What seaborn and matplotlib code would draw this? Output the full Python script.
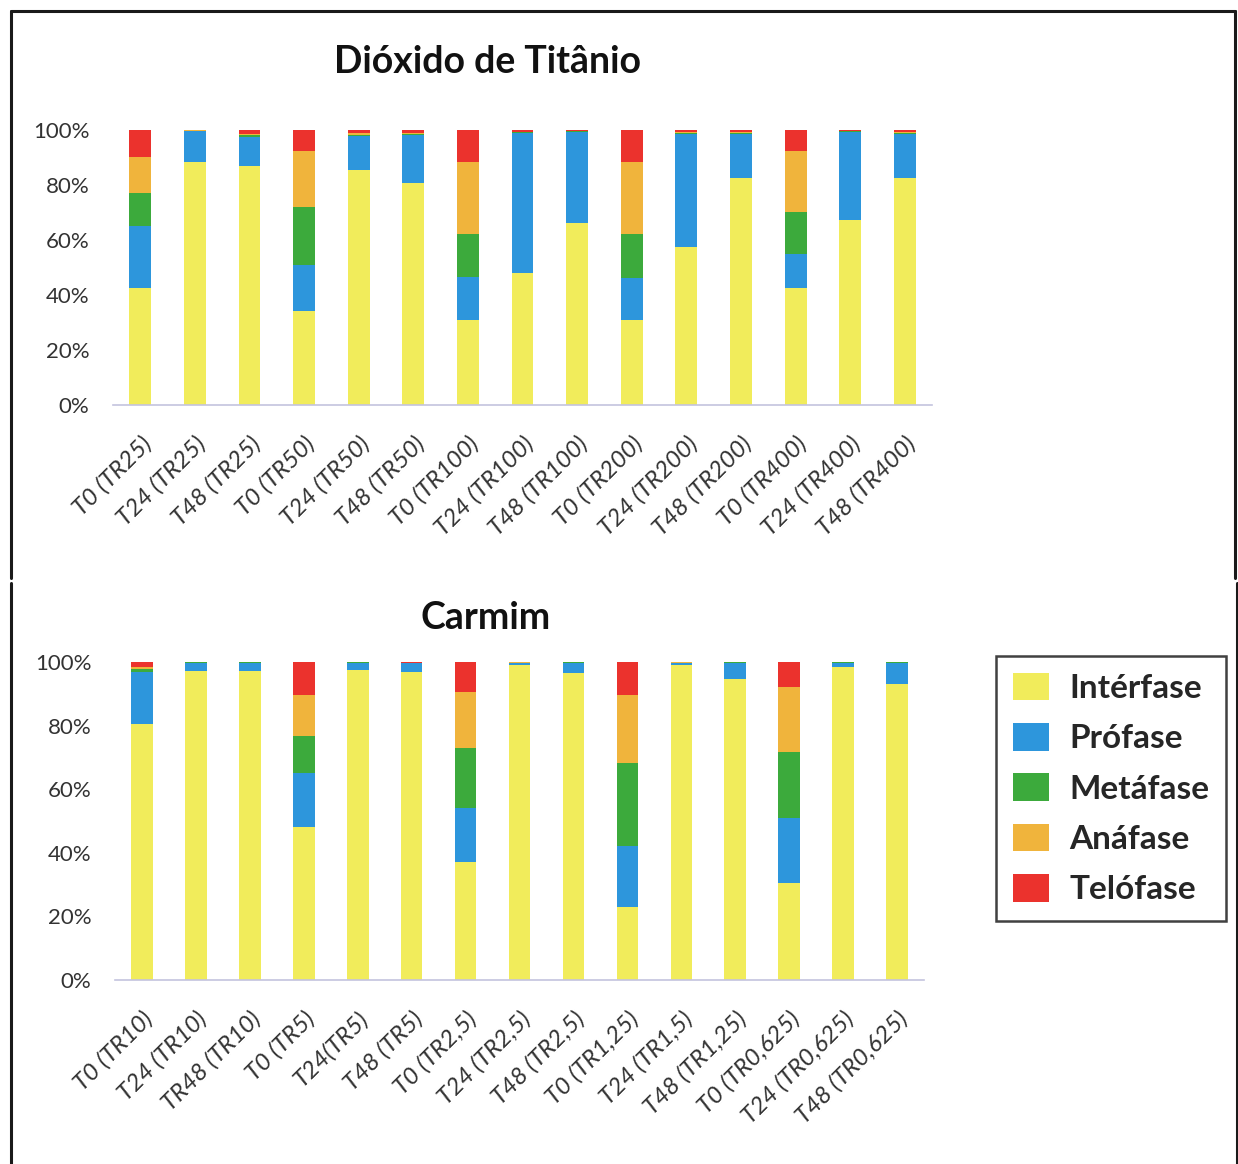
"""
Mitotic index by phase - Dioxido de Titanio vs Carmim (stacked 100% bars)
"""

# =============== IMPORTS ===============
import numpy as np
import pandas as pd
import matplotlib
matplotlib.use("Agg")
import matplotlib.pyplot as plt
import seaborn as sns
from matplotlib.patches import Patch
from matplotlib.lines import Line2D
from matplotlib.ticker import PercentFormatter


# =============== DATA ===============
phases = ["Intérfase", "Prófase", "Metáfase", "Anáfase", "Telófase"]
colors = ["#F1EC5B", "#2D96DC", "#3CAA3C", "#F0B43C", "#EB322D"]

# Dióxido de Titânio
cats_tio2 = ["T0 (TR25)", "T24 (TR25)", "T48 (TR25)",
             "T0 (TR50)", "T24 (TR50)", "T48 (TR50)",
             "T0 (TR100)", "T24 (TR100)", "T48 (TR100)",
             "T0 (TR200)", "T24 (TR200)", "T48 (TR200)",
             "T0 (TR400)", "T24 (TR400)", "T48 (TR400)"]
tio2_inter = [42.5, 88.5, 86.7, 34.0, 85.5, 80.6, 31.0, 47.9, 66.0, 31.0, 57.6, 82.4, 42.7, 67.3, 82.4]
tio2_pro = [22.5, 11.0, 10.8, 17.0, 12.3, 17.6, 15.7, 50.9, 33.4, 15.3, 40.9, 16.1, 12.3, 32.1, 16.1]
tio2_meta = [12.0, 0.2, 0.5, 21.0, 0.5, 0.4, 15.3, 0.3, 0.2, 15.7, 0.4, 0.4, 15.0, 0.2, 0.4]
tio2_ana = [13.3, 0.1, 0.5, 20.5, 0.5, 0.4, 26.5, 0.3, 0.1, 26.5, 0.4, 0.4, 22.5, 0.1, 0.4]
tio2_telo = [9.7, 0.2, 1.5, 7.5, 1.2, 1.0, 11.5, 0.6, 0.3, 11.5, 0.7, 0.7, 7.5, 0.3, 0.7]

# Carmim
cats_carm = ["T0 (TR10)", "T24 (TR10)", "TR48 (TR10)",
             "T0 (TR5)", "T24(TR5)", "T48 (TR5)",
             "T0 (TR2,5)", "T24 (TR2,5)", "T48 (TR2,5)",
             "T0 (TR1,25)", "T24 (TR1,5)", "T48 (TR1,25)",
             "T0 (TR0,625)", "T24 (TR0,625)", "T48 (TR0,625)"]
carm_inter = [80.5, 97.3, 97.3, 48.2, 97.5, 97.0, 37.2, 99.0, 96.5, 23.0, 99.0, 94.6, 30.6, 98.3, 93.0]
carm_pro = [16.5, 2.5, 2.5, 16.8, 2.3, 2.6, 16.8, 0.6, 3.3, 19.2, 0.6, 5.2, 20.3, 1.5, 6.8]
carm_meta = [0.8, 0.1, 0.1, 11.8, 0.1, 0.1, 18.9, 0.2, 0.1, 26.0, 0.2, 0.1, 20.9, 0.1, 0.1]
carm_ana = [0.7, 0.05, 0.05, 12.8, 0.05, 0.1, 17.6, 0.1, 0.05, 21.4, 0.1, 0.05, 20.4, 0.05, 0.05]
carm_telo = [1.5, 0.05, 0.05, 10.4, 0.05, 0.2, 9.5, 0.1, 0.05, 10.4, 0.1, 0.05, 7.8, 0.05, 0.05]


def make_df(cats, layers):
    df = pd.DataFrame(dict(zip(phases, layers)), index=cats)
    df = df.div(df.sum(axis=1), axis=0)  # normalise to 100%
    return df


df_tio2 = make_df(cats_tio2, [tio2_inter, tio2_pro, tio2_meta, tio2_ana, tio2_telo])
df_carm = make_df(cats_carm, [carm_inter, carm_pro, carm_meta, carm_ana, carm_telo])


# =============== STYLE ===============
sns.set_theme(style="white")
plt.rcParams["font.family"] = ["Lato", "DejaVu Sans"]

fig = plt.figure(figsize=(12.38, 11.64), dpi=100)
ax_top = fig.add_axes([0.0913, 0.6521, 0.6616, 0.2363])
ax_bot = fig.add_axes([0.0929, 0.1581, 0.6535, 0.2732])


def stacked(ax, df):
    cum = df.cumsum(axis=1)
    # draw from the top layer down so each shorter bar sits in front
    for phase, col in reversed(list(zip(phases, colors))):
        sns.barplot(x=df.index, y=cum[phase].values, color=col, saturation=1,
                    width=0.4, ax=ax, linewidth=0)
    ax.set_xlim(-0.5, len(df) - 0.5)
    ax.set_ylim(0, 1.0)
    ax.set_yticks(np.arange(0, 1.01, 0.2))
    ax.yaxis.set_major_formatter(PercentFormatter(1.0, decimals=0))
    ax.set_xlabel("")
    ax.set_ylabel("")
    for s in ["top", "right", "left"]:
        ax.spines[s].set_visible(False)
    ax.spines["bottom"].set_color("#C4C4DE")
    ax.spines["bottom"].set_linewidth(1.2)
    ax.tick_params(axis="both", length=0, colors="#333333")
    ax.tick_params(axis="y", labelsize=16, pad=17)
    ax.tick_params(axis="x", labelsize=17.5, pad=20)
    plt.setp(ax.get_xticklabels(), rotation=45, ha="right", rotation_mode="anchor",
             style="italic")


stacked(ax_top, df_tio2)
stacked(ax_bot, df_carm)

fig.text(487 / 1238, 1 - 62 / 1164, "Dióxido de Titânio", ha="center", va="center",
         fontsize=27, fontweight="bold", color="#111111")
fig.text(486 / 1238, 1 - 618 / 1164, "Carmim", ha="center", va="center",
         fontsize=27, fontweight="bold", color="#111111")

# =============== LEGEND ===============
handles = [Patch(facecolor=c, edgecolor="none") for c in colors]
leg = fig.legend(handles, phases, loc="upper left",
                 bbox_to_anchor=(996 / 1238, 1 - 656 / 1164),
                 frameon=True, fancybox=False, edgecolor="#111111",
                 prop={"size": 24, "weight": "bold"},
                 handlelength=1.1, handleheight=0.9, handletextpad=0.6,
                 labelspacing=0.6, borderpad=0.5, borderaxespad=0)
leg.get_frame().set_linewidth(1.8)

# =============== PANEL FRAMES ===============
def fline(x0, y0, x1, y1):
    fig.add_artist(Line2D([x0 / 1238, x1 / 1238], [1 - y0 / 1164, 1 - y1 / 1164],
                          color="#1a1a1a", linewidth=2.2))

fline(11, 11, 1235, 11)
fline(11, 11, 11, 578)
fline(1235, 11, 1235, 578)
fline(11, 583, 11, 1164)
fline(1237, 583, 1237, 1164)

fig.savefig("out.png", dpi=100, facecolor="white")
plt.close(fig)
